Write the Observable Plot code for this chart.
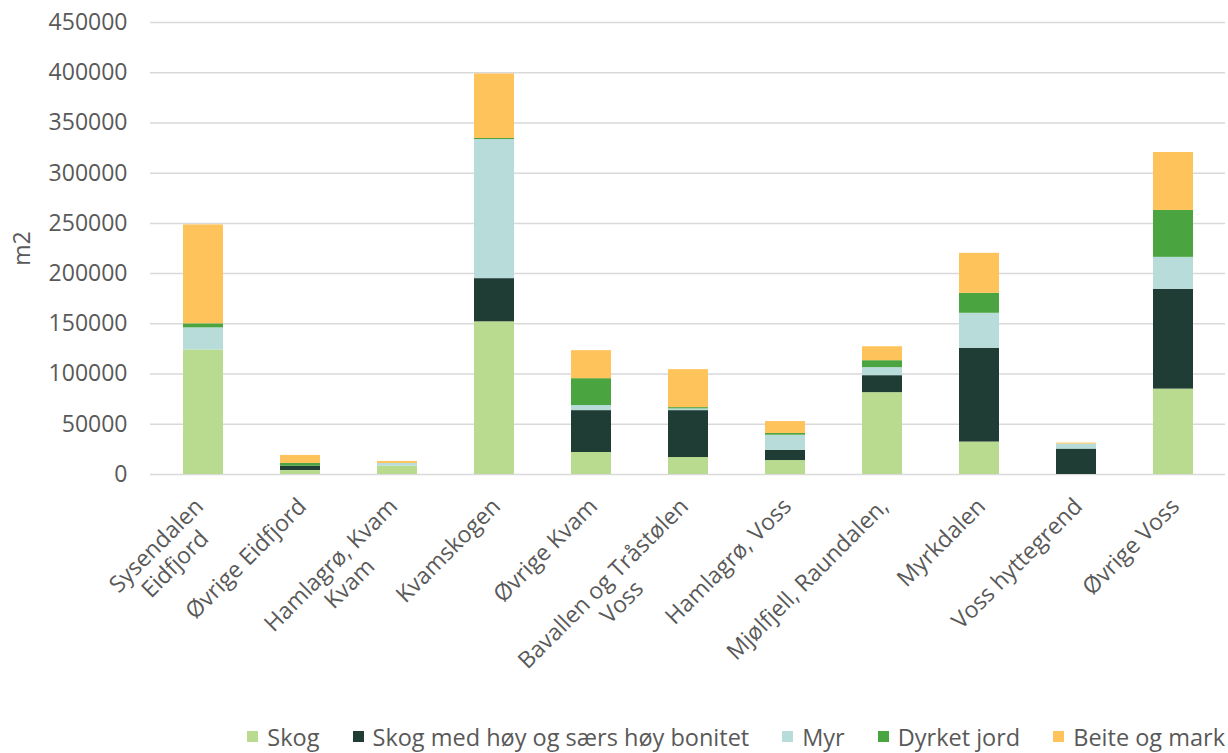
<!DOCTYPE html>
<html><head><meta charset="utf-8">
<script src="https://cdn.jsdelivr.net/npm/d3@7"></script>
<script src="https://cdn.jsdelivr.net/npm/@observablehq/plot@0.6"></script>
<style>
body{margin:0;background:#fff;font-family:"Open Sans", sans-serif;}
#chart{width:1228px;}
.lg-swatches{justify-content:flex-end;padding-right:3px;margin-top:0 !important;font-family:"Open Sans", sans-serif;font-size:23.5px !important;color:#595959;}
.lg-swatch{margin-right:0 !important;margin-left:33px;}
.lg-swatch svg{margin-right:9px !important;}
</style></head><body><div id="chart"></div>
<script>
const categories = ["Sysendalen\nEidfjord","Øvrige Eidfjord","Hamlagrø, Kvam\nKvam","Kvamskogen","Øvrige Kvam","Bavallen og Tråstølen\nVoss","Hamlagrø, Voss","Mjølfjell, Raundalen,","Myrkdalen","Voss hyttegrend","Øvrige Voss"];
const seriesNames = ["Skog","Skog med høy og særs høy bonitet","Myr","Dyrket jord","Beite og mark"];
const seriesColors = ["#b8db90","#1f3d35","#b8dcda","#4aa43f","#ffc35b"];
const skog   = [124000, 4000, 8300, 152000, 21900, 16900, 13900, 81500, 32300, 0, 85000];
const hoy    = [0, 4300, 0, 43000, 41700, 46700, 10000, 16900, 93400, 25300, 99400];
const myr    = [22000, 0, 2700, 138500, 5000, 1700, 15200, 8000, 34800, 5000, 31800];
const dyrket = [4000, 2700, 0, 1000, 26800, 1300, 1700, 6900, 19900, 0, 46700];
const beite  = [98500, 8000, 2000, 64300, 27900, 37800, 11900, 13900, 39800, 1000, 57700];
const yTicks = [0, 50000, 100000, 150000, 200000, 250000, 300000, 350000, 400000, 450000];
const yLabel = "m2";

const seriesValues = [skog, hoy, myr, dyrket, beite];
const rows = [];
seriesNames.forEach((s, i) => categories.forEach((c, j) => rows.push({category: c, type: s, value: seriesValues[i][j]})));

const labelOpts = {x: d => d, frameAnchor: "bottom", text: d => d, rotate: -45, textAnchor: "end", lineAnchor: "top", lineHeight: 1.15, fill: "#595959", fontSize: 23, className: "xlab"};

const chart = Plot.plot({
  width: 1228, height: 720,
  marginTop: 22, marginBottom: 246, marginLeft: 150, marginRight: 3,
  style: {fontFamily: "'Open Sans', sans-serif", fontSize: "23px", color: "#595959", background: "#fff"},
  x: {domain: categories, paddingInner: 0.59, paddingOuter: 0.295, axis: null},
  y: {domain: [0, 450000]},
  color: {domain: seriesNames, range: seriesColors},
  marks: [
    Plot.gridY(yTicks, {stroke: "#d9d9d9", strokeOpacity: 1, strokeWidth: 1.5}),
    Plot.axisY(yTicks, {tickSize: 0, tickPadding: 23, tickFormat: d => String(d), label: yLabel, labelAnchor: "center", labelArrow: "none", labelOffset: 137, fill: "#595959", fontSize: 23}),
    Plot.barY(rows, {x: "category", y: "value", fill: "type", order: seriesNames}),
    Plot.text(categories.filter(c => !c.includes("\n")), {...labelOpts, dx: -6, dy: 20}),
    Plot.text(categories.filter(c => c.includes("\n")), {...labelOpts, dx: -12, dy: 20})
  ]
});
document.getElementById("chart").appendChild(chart);

// center multi-line labels (Excel style)
chart.querySelectorAll(".xlab text").forEach(t => {
  const spans = t.querySelectorAll("tspan");
  if (spans.length < 2) return;
  const lens = Array.from(spans, s => s.getComputedTextLength());
  const max = Math.max(...lens);
  spans.forEach((s, i) => s.setAttribute("x", -(max - lens[i]) / 2));
});

const legend = Plot.legend({color: {domain: seriesNames, range: seriesColors}, legend: "swatches", swatchSize: 11, className: "lg"});
document.getElementById("chart").appendChild(legend);
</script></body></html>
